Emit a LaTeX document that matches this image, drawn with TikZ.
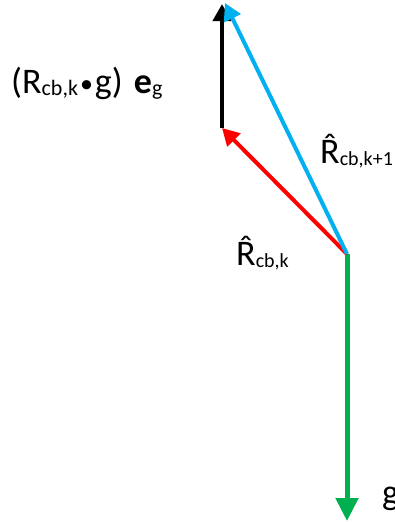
\documentclass[tikz,border=0pt]{standalone}
\usepackage{fontspec}
\setmainfont{Carlito}
\usepackage{xcolor}
\usetikzlibrary{arrows.meta}
\definecolor{vgreen}{HTML}{00B050}
\definecolor{vblue}{HTML}{00B0F0}
\definecolor{vred}{HTML}{FF0000}
\newcommand{\sub}[2][20]{\raisebox{-2pt}{\fontsize{#1}{#1}\selectfont #2}}
\newcommand{\hatR}{{\ooalign{R\cr\hidewidth\raisebox{5pt}{\char"02C6}\hidewidth\cr}}}
\newcommand{\dotop}{\hspace{2pt}\raisebox{1pt}{\fontsize{26}{28}\selectfont\textbullet}\hspace{2pt}}
\tikzset{vec/.style={line width=4pt, -{Triangle[length=17pt, width=18pt]}},
         lbl/.style={anchor=base west, inner sep=0pt, font=\fontsize{36}{40}\selectfont}}

\begin{document}
\begin{tikzpicture}[x=1pt, y=-1pt]
  \useasboundingbox (0,0) rectangle (395,522);
  \coordinate (o) at (347,254);
  \coordinate (gtip) at (347,521);
  \coordinate (rtip) at (222,128);
  \coordinate (ktip) at (222,4);
  \coordinate (btip) at (225,3);
  \draw[vec, vgreen, line width=5pt, -{Triangle[length=23pt, width=22pt]}] (o) -- (gtip);
  \draw[vec, vred] (o) -- (rtip);
  \draw[vec, black] (rtip) -- (ktip);
  \draw[vec, vblue] (o) -- (btip);
  \node[lbl] (lab) at (11,93) {(R\sub[22]{cb,k}\dotop g)\hspace{3pt} \textbf{e}\sub[22]{g}};
  \node[lbl] (rk1) at (320,163) {\hatR\sub{cb,k+1}};
  \node[lbl] (rk) at (236,265) {\hatR\sub{cb,k}};
  \node[lbl] (g) at (382,504) {g};
\end{tikzpicture}
\end{document}
